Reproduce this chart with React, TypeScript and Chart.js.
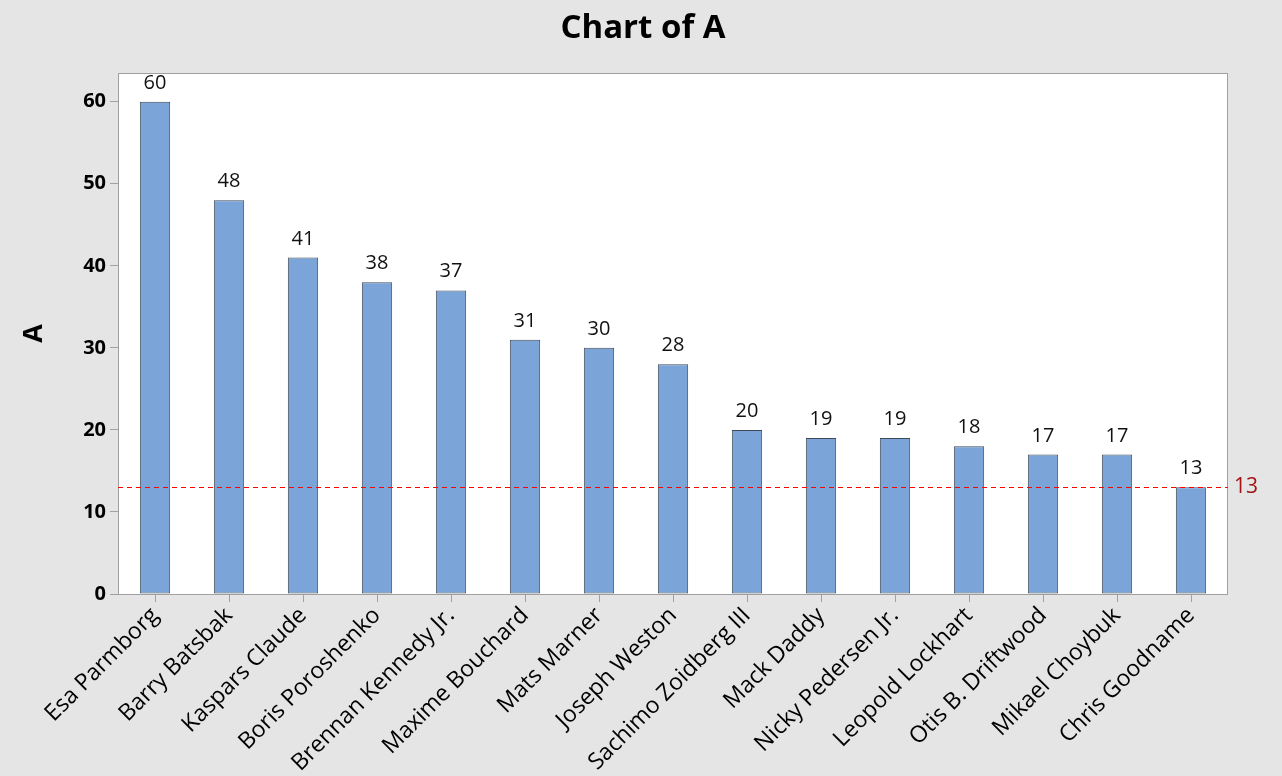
import { useEffect, useRef } from 'react'
import { Chart, registerables } from 'chart.js'

Chart.register(...registerables)

const names = [
  'Esa Parmborg',
  'Barry Batsbak',
  'Kaspars Claude',
  'Boris Poroshenko',
  'Brennan Kennedy Jr.',
  'Maxime Bouchard',
  'Mats Marner',
  'Joseph Weston',
  'Sachimo Zoidberg III',
  'Mack Daddy',
  'Nicky Pedersen Jr.',
  'Leopold Lockhart',
  'Otis B. Driftwood',
  'Mikael Choybuk',
  'Chris Goodname',
]
const values = [60, 48, 41, 38, 37, 31, 30, 28, 20, 19, 19, 18, 17, 17, 13]
const refValue = 13
const yTicks = [0, 10, 20, 30, 40, 50, 60]
const chartTitle = 'Chart of A'

const FONT = "'Open Sans', 'Noto Sans', sans-serif"

const framePlugin = {
  id: 'frame',
  beforeDraw(chart: any) {
    const { ctx, chartArea: a, width, height } = chart
    ctx.save()
    ctx.fillStyle = '#e5e5e5'
    ctx.fillRect(0, 0, width, height)
    ctx.fillStyle = '#ffffff'
    ctx.fillRect(a.left, a.top, a.right - a.left, a.bottom - a.top)
    // title, centred on the whole picture
    ctx.fillStyle = '#000000'
    ctx.font = `bold 33px ${FONT}`
    ctx.textAlign = 'center'
    ctx.textBaseline = 'middle'
    ctx.fillText(chartTitle, width / 2 + 2, 29)
    ctx.restore()
  },
  afterDatasetsDraw(chart: any) {
    const { ctx, chartArea: a, scales } = chart
    const y = scales.y
    ctx.save()
    // plot box
    ctx.strokeStyle = '#a0a0a0'
    ctx.lineWidth = 1
    ctx.strokeRect(a.left + 0.5, a.top + 0.5, a.right - a.left - 1, a.bottom - a.top)

    // reference line
    const ry = Math.round(y.getPixelForValue(refValue)) + 0.5
    ctx.strokeStyle = '#ff0000'
    ctx.lineWidth = 1.2
    ctx.setLineDash([5, 4])
    ctx.beginPath()
    ctx.moveTo(a.left, ry)
    ctx.lineTo(a.right, ry)
    ctx.stroke()
    ctx.setLineDash([])
    ctx.fillStyle = '#a31515'
    ctx.font = `21px ${FONT}`
    ctx.textAlign = 'left'
    ctx.textBaseline = 'middle'
    ctx.fillText(String(refValue), a.right + 6, ry)

    // value labels
    const meta = chart.getDatasetMeta(0)
    ctx.fillStyle = '#111111'
    ctx.font = `20px ${FONT}`
    ctx.textAlign = 'center'
    ctx.textBaseline = 'alphabetic'
    meta.data.forEach((bar: any, i: number) => {
      ctx.fillText(String(values[i]), bar.x, bar.y - 13)
    })
    ctx.restore()
  },
}

export default function App() {
  const ref = useRef<HTMLCanvasElement>(null)
  const chart = useRef<Chart | null>(null)

  useEffect(() => {
    if (!ref.current) return
    chart.current?.destroy()
    chart.current = new Chart(ref.current, {
      type: 'bar',
      data: {
        labels: names,
        datasets: [
          {
            label: 'A',
            data: values,
            backgroundColor: '#7ba5d8',
            borderColor: '#404a58',
            borderWidth: 1,
            borderSkipped: false,
            barPercentage: 0.41,
            categoryPercentage: 1,
          },
        ],
      },
      options: {
        animation: false,
        responsive: true,
        maintainAspectRatio: false,
        layout: { padding: { top: 73, right: 54, left: 0, bottom: 0 } },
        plugins: {
          legend: { display: false },
          tooltip: { enabled: false },
          title: { display: false },
        },
        scales: {
          x: {
            afterFit: (s: any) => {
              s.height = 182
            },
            grid: { drawOnChartArea: false, offset: false, tickLength: 8, color: '#a0a0a0' },
            border: { display: false },
            ticks: {
              autoSkip: false,
              minRotation: 45,
              maxRotation: 45,
              color: '#000000',
              font: { family: FONT, size: 23 },
              padding: 0,
            },
          },
          y: {
            min: 0,
            max: 63.5,
            afterFit: (s: any) => {
              s.width = 118
            },
            afterBuildTicks: (s: any) => {
              s.ticks = yTicks.map((v) => ({ value: v }))
            },
            grid: { drawOnChartArea: false, tickLength: 8, color: '#a0a0a0' },
            border: { display: false },
            ticks: {
              color: '#000000',
              font: { family: FONT, size: 20, weight: 'bold' },
              padding: 4,
            },
            title: {
              display: true,
              text: 'A',
              color: '#000000',
              font: { family: FONT, size: 27, weight: 'bold' },
              padding: { top: 18, bottom: 0 },
            },
          },
        },
      },
      plugins: [framePlugin],
    })
    return () => chart.current?.destroy()
  }, [])

  return (
    <div style={{ position: 'fixed', left: 0, top: 0, width: 1282, height: 776, background: '#e5e5e5' }}>
      <canvas ref={ref} role="img" aria-label="Chart of A" />
    </div>
  )
}
